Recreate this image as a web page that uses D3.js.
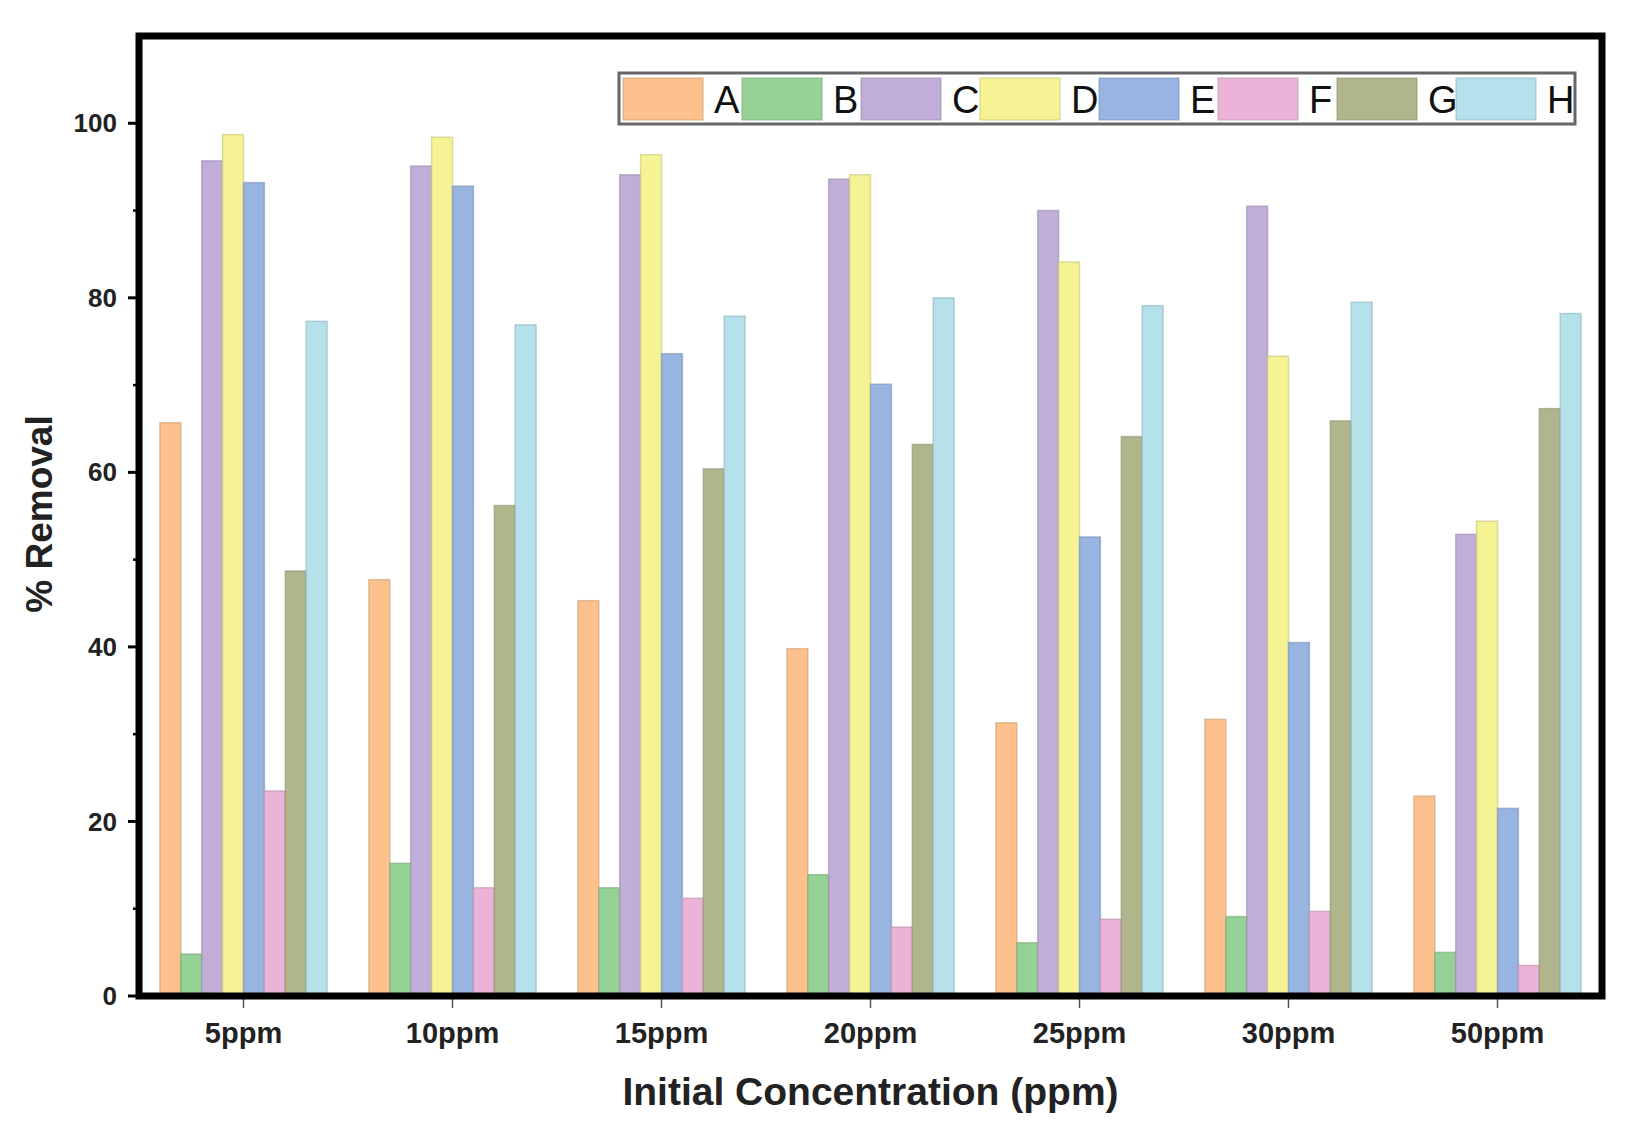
<!DOCTYPE html>
<html>
<head>
<meta charset="utf-8">
<script src="https://cdn.jsdelivr.net/npm/d3@7"></script>
<style>
    body { margin: 0; background: #fff; }
    svg { display: block; font-family: "Liberation Sans", Arial, sans-serif; }
</style>
</head>
<body>
<svg id="chart" width="1638" height="1141"></svg>
<script>
        // Chart data
        const categories = ["5ppm", "10ppm", "15ppm", "20ppm", "25ppm", "30ppm", "50ppm"];
        const seriesNames = ["A", "B", "C", "D", "E", "F", "G", "H"];
        const seriesA = [65.7, 47.7, 45.3, 39.8, 31.3, 31.7, 22.9];
        const seriesB = [4.8, 15.2, 12.4, 13.9, 6.1, 9.1, 5.0];
        const seriesC = [95.7, 95.1, 94.1, 93.6, 90.0, 90.5, 52.9];
        const seriesD = [98.7, 98.4, 96.4, 94.1, 84.1, 73.3, 54.4];
        const seriesE = [93.2, 92.8, 73.6, 70.1, 52.6, 40.5, 21.5];
        const seriesF = [23.5, 12.4, 11.2, 7.9, 8.8, 9.7, 3.5];
        const seriesG = [48.7, 56.2, 60.4, 63.2, 64.1, 65.9, 67.3];
        const seriesH = [77.3, 76.9, 77.9, 80.0, 79.1, 79.5, 78.2];
        const colors = ["#fcc18c", "#96d195", "#c0aed6", "#f6f395", "#98b4e0", "#ebb3d8", "#b1b58c", "#b4e1ea"];
        const yTicks = [0, 20, 40, 60, 80, 100];
        const yMinorTicks = [10, 30, 50, 70, 90];

        const allSeries = [seriesA, seriesB, seriesC, seriesD, seriesE, seriesF, seriesG, seriesH];

        // Layout
        const plotLeft = 139, plotRight = 1602, plotTop = 36, plotBottom = 996;
        const svg = d3.select('#chart');

        const x0 = d3.scaleBand()
            .domain(categories)
            .range([plotLeft, plotRight])
            .paddingInner(0.2)
            .paddingOuter(0.1);

        const x1 = d3.scaleBand()
            .domain(seriesNames)
            .range([0, x0.bandwidth()]);

        const y = d3.scaleLinear()
            .domain([0, 110])
            .range([plotBottom, plotTop]);

        // Bars
        const groups = svg.append('g')
            .selectAll('g')
            .data(categories)
            .join('g')
            .attr('transform', d => `translate(${x0(d)},0)`);

        groups.selectAll('rect')
            .data((cat, ci) => seriesNames.map((s, si) => ({ s, si, v: allSeries[si][ci] })))
            .join('rect')
            .attr('x', d => x1(d.s))
            .attr('y', d => y(d.v))
            .attr('width', x1.bandwidth())
            .attr('height', d => y(0) - y(d.v))
            .attr('fill', d => colors[d.si])
            .attr('stroke', d => d3.color(colors[d.si]).darker(0.6))
            .attr('stroke-opacity', 0.6)
            .attr('stroke-width', 1.5);

        // Y axis ticks and labels
        const yAxis = svg.append('g')
            .attr('transform', `translate(${plotLeft},0)`);

        yAxis.selectAll('line.major')
            .data(yTicks)
            .join('line')
            .attr('class', 'major')
            .attr('x1', -11).attr('x2', 0)
            .attr('y1', d => y(d)).attr('y2', d => y(d))
            .attr('stroke', '#000').attr('stroke-width', 3);

        yAxis.selectAll('line.minor')
            .data(yMinorTicks)
            .join('line')
            .attr('class', 'minor')
            .attr('x1', -6).attr('x2', 0)
            .attr('y1', d => y(d)).attr('y2', d => y(d))
            .attr('stroke', '#000').attr('stroke-width', 2.5);

        yAxis.selectAll('text')
            .data(yTicks)
            .join('text')
            .attr('x', -22)
            .attr('y', d => y(d))
            .attr('dy', '0.35em')
            .attr('text-anchor', 'end')
            .attr('font-size', 26)
            .attr('font-weight', 'bold')
            .attr('fill', '#222')
            .text(d => d);

        // X axis ticks and labels
        const xAxis = svg.append('g');

        xAxis.selectAll('line')
            .data(categories)
            .join('line')
            .attr('x1', d => x0(d) + x0.bandwidth() / 2)
            .attr('x2', d => x0(d) + x0.bandwidth() / 2)
            .attr('y1', plotBottom).attr('y2', plotBottom + 12)
            .attr('stroke', '#555').attr('stroke-width', 1.5);

        xAxis.selectAll('text')
            .data(categories)
            .join('text')
            .attr('x', d => x0(d) + x0.bandwidth() / 2)
            .attr('y', plotBottom + 47)
            .attr('text-anchor', 'middle')
            .attr('font-size', 29)
            .attr('font-weight', 'bold')
            .attr('fill', '#222')
            .text(d => d);

        // Frame
        svg.append('rect')
            .attr('x', plotLeft).attr('y', plotTop)
            .attr('width', plotRight - plotLeft).attr('height', plotBottom - plotTop)
            .attr('fill', 'none')
            .attr('stroke', '#000')
            .attr('stroke-width', 7);

        // Axis titles
        svg.append('text')
            .attr('x', (plotLeft + plotRight) / 2)
            .attr('y', 1105)
            .attr('text-anchor', 'middle')
            .attr('font-size', 39)
            .attr('font-weight', 'bold')
            .attr('fill', '#222')
            .text('Initial Concentration (ppm)');

        svg.append('text')
            .attr('transform', 'translate(52,514) rotate(-90)')
            .attr('text-anchor', 'middle')
            .attr('font-size', 37)
            .attr('font-weight', 'bold')
            .attr('fill', '#222')
            .text('% Removal');

        // Legend
        const legend = svg.append('g');
        legend.append('rect')
            .attr('x', 619).attr('y', 73)
            .attr('width', 956).attr('height', 51)
            .attr('fill', '#fff')
            .attr('stroke', '#666')
            .attr('stroke-width', 3);

        const items = legend.selectAll('g.item')
            .data(seriesNames)
            .join('g')
            .attr('class', 'item')
            .attr('transform', (d, i) => `translate(${623 + i * 119},0)`);

        items.append('rect')
            .attr('x', 0).attr('y', 78)
            .attr('width', 80).attr('height', 42)
            .attr('fill', (d, i) => colors[i])
            .attr('stroke', (d, i) => d3.color(colors[i]).darker(0.6))
            .attr('stroke-opacity', 0.5)
            .attr('stroke-width', 1.5);

        items.append('text')
            .attr('x', 91)
            .attr('y', 113)
            .attr('font-size', 38)
            .attr('fill', '#111')
            .text(d => d);
</script>
</body>
</html>
